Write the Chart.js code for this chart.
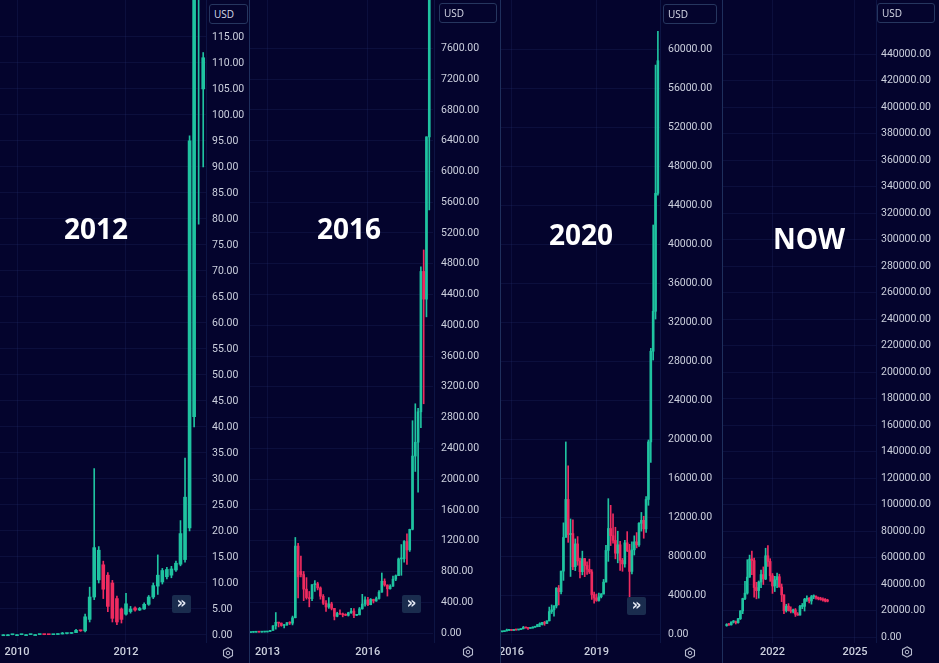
<!DOCTYPE html>
<html>
<head>
<meta charset="utf-8">
<script src="https://cdn.jsdelivr.net/npm/chart.js@4.4.1/dist/chart.umd.min.js"></script>
<style>
  html, body { margin: 0; padding: 0; background: #04042d; }
  #wrap { position: relative; width: 939px; height: 663px; overflow: hidden; background: #04042d; }
  canvas { position: absolute; top: 0; }
  .sep { position: absolute; top: 0; width: 1px; height: 663px; background: #1e2f5c; }
  .axisline { position: absolute; top: 0; width: 1px; height: 643px; background: #0d1544; }
  .era { position: absolute; color: #fff; font: bold 28px "Open Sans", sans-serif; transform: translate(-50%, -50%); white-space: nowrap; }
  .usd { position: absolute; height: 20px; box-sizing: border-box; border: 1px solid #26365f; border-radius: 3px;
         background: #04042d; color: #d8dbe8; font: 10px "Open Sans", sans-serif; line-height: 18px; padding-left: 4px; }
  .ff { position: absolute; width: 19px; height: 18px; background: #1a2c4e; border-radius: 2px; color: #e6ebf5;
        font: bold 15px "DejaVu Sans", sans-serif; text-align: center; line-height: 16px; }
  .gear { position: absolute; width: 12px; height: 12px; }
</style>
</head>
<body>
<div id="wrap">
  <canvas id="c1" width="249" height="663" style="left:0px"></canvas>
  <canvas id="c2" width="251" height="663" style="left:249px"></canvas>
  <canvas id="c3" width="222" height="663" style="left:500px"></canvas>
  <canvas id="c4" width="217" height="663" style="left:722px"></canvas>

  <div class="axisline" style="left:206px"></div>
  <div class="axisline" style="left:434px"></div>
  <div class="axisline" style="left:660px"></div>
  <div class="axisline" style="left:876px"></div>
  <div class="sep" style="left:249px"></div>
  <div class="sep" style="left:500px"></div>
  <div class="sep" style="left:722px"></div>

  <div class="era" style="left:96px; top:228px">2012</div>
  <div class="era" style="left:349px; top:228px">2016</div>
  <div class="era" style="left:581px; top:234px">2020</div>
  <div class="era" style="left:809px; top:238px">NOW</div>

  <div class="usd" style="left:209px; top:4px; width:39px">USD</div>
  <div class="usd" style="left:439px; top:3px; width:58px">USD</div>
  <div class="usd" style="left:663px; top:4px; width:54px">USD</div>
  <div class="usd" style="left:877px; top:3px; width:58px">USD</div>

  <div class="ff" style="left:172px; top:595px">»</div>
  <div class="ff" style="left:402px; top:595px">»</div>
  <div class="ff" style="left:627px; top:597px">»</div>

  <svg class="gear" style="left:222px; top:647px" viewBox="0 0 12 12"><polygon points="6,0.8 10.5,3.4 10.5,8.6 6,11.2 1.5,8.6 1.5,3.4" fill="none" stroke="#b9bdd0" stroke-width="1.1"/><circle cx="6" cy="6" r="1.8" fill="none" stroke="#b9bdd0" stroke-width="1"/></svg>
  <svg class="gear" style="left:462px; top:646px" viewBox="0 0 12 12"><polygon points="6,0.8 10.5,3.4 10.5,8.6 6,11.2 1.5,8.6 1.5,3.4" fill="none" stroke="#b9bdd0" stroke-width="1.1"/><circle cx="6" cy="6" r="1.8" fill="none" stroke="#b9bdd0" stroke-width="1"/></svg>
  <svg class="gear" style="left:684px; top:647px" viewBox="0 0 12 12"><polygon points="6,0.8 10.5,3.4 10.5,8.6 6,11.2 1.5,8.6 1.5,3.4" fill="none" stroke="#b9bdd0" stroke-width="1.1"/><circle cx="6" cy="6" r="1.8" fill="none" stroke="#b9bdd0" stroke-width="1"/></svg>
  <svg class="gear" style="left:901px; top:646px" viewBox="0 0 12 12"><polygon points="6,0.8 10.5,3.4 10.5,8.6 6,11.2 1.5,8.6 1.5,3.4" fill="none" stroke="#b9bdd0" stroke-width="1.1"/><circle cx="6" cy="6" r="1.8" fill="none" stroke="#b9bdd0" stroke-width="1"/></svg>
</div>

<script>
// monthly candles: [open, high, low, close]
// panel 1 starts Oct 2009
const ohlc2012 = [
  [0.05, 0.06, 0.04, 0.05], [0.05, 0.06, 0.04, 0.05], [0.05, 0.07, 0.04, 0.06], [0.06, 0.07, 0.05, 0.06],
  [0.06, 0.08, 0.05, 0.07], [0.07, 0.08, 0.06, 0.07], [0.07, 0.09, 0.06, 0.08], [0.08, 0.1, 0.06, 0.08],
  [0.08, 0.1, 0.06, 0.09], [0.09, 0.12, 0.05, 0.07], [0.07, 0.09, 0.06, 0.06], [0.06, 0.1, 0.06, 0.09],
  [0.09, 0.2, 0.09, 0.19], [0.19, 0.5, 0.19, 0.28], [0.28, 0.3, 0.2, 0.3], [0.3, 0.45, 0.28, 0.45],
  [0.45, 1.1, 0.45, 0.9], [0.9, 0.95, 0.7, 0.8], [0.8, 4, 0.6, 3.5], [3, 9.2, 2.5, 7.3],
  [7.3, 32, 6.8, 16.8], [10.6, 17, 10, 16.3], [13.5, 14.2, 7, 8.8], [11.5, 12, 4.5, 5.5],
  [10, 10.5, 2.5, 3.2], [7, 7.5, 2, 2.5], [5, 5.2, 2.3, 3], [4, 8, 3.8, 6],
  [4.5, 5.5, 4.2, 5], [5.2, 5.4, 4.6, 4.8], [4.8, 5.3, 4.7, 5.1], [5, 6.2, 4.9, 5.9],
  [5.9, 7.6, 5.7, 7.3], [7.3, 10, 7, 9.5], [9.4, 15.4, 7.8, 11.5], [10.2, 12.8, 9.8, 12.4],
  [11.2, 13, 10.8, 12.6], [11.5, 13.2, 11, 12.7], [12.5, 14.2, 12.2, 13.8], [13.6, 22, 13.3, 19.5],
  [14.5, 34, 14, 26.5], [20.6, 96, 20, 95], [42, 266, 40, 139], [125, 140, 79, 135],
  [105, 112, 90, 111]
];

// panel 2 starts Jul 2012
const ohlc2016 = [
  [6.6, 9.7, 6.5, 9.4], [9.4, 15.4, 7.1, 10.2], [10.2, 12.9, 9.9, 12.4], [12.4, 12.9, 9.6, 11.2],
  [11.2, 12.7, 10, 12.6], [12.6, 13.9, 12.5, 13.5], [13.5, 20.4, 13.2, 20.4], [20.4, 33.4, 19.1, 33.4],
  [33.4, 95, 33, 93], [93, 266, 50, 139], [139, 140, 79, 129], [129, 130, 88, 97],
  [97, 111, 65, 106], [106, 136, 98, 135], [135, 146, 110, 128], [128, 220, 105, 198],
  [198, 1242, 197, 1130], [1130, 1165, 455, 730], [800, 1000, 730, 760], [760, 800, 420, 570],
  [570, 720, 440, 460], [460, 540, 340, 447], [447, 630, 420, 628], [628, 680, 540, 640],
  [640, 660, 560, 586], [586, 600, 440, 478], [478, 500, 370, 387], [387, 420, 280, 338],
  [338, 460, 320, 378], [378, 400, 300, 320], [320, 320, 170, 217], [217, 270, 210, 254],
  [254, 300, 240, 244], [244, 260, 210, 236], [236, 250, 225, 230], [230, 270, 220, 263],
  [263, 320, 255, 284], [284, 318, 198, 230], [230, 243, 225, 236], [236, 332, 236, 314],
  [314, 503, 310, 377], [377, 469, 350, 430], [430, 464, 354, 368], [368, 448, 366, 437],
  [437, 440, 390, 416], [416, 468, 412, 448], [448, 550, 440, 531], [531, 780, 530, 673],
  [673, 704, 608, 624], [624, 626, 480, 575], [575, 628, 570, 609], [609, 740, 606, 700],
  [700, 755, 680, 745], [745, 975, 745, 963], [963, 1150, 750, 965], [965, 1200, 920, 1190],
  [1190, 1290, 890, 1080], [1080, 1350, 1060, 1348], [1348, 2760, 1340, 2300], [2300, 2980, 2100, 2480],
  [2480, 2920, 1830, 2875], [2875, 4760, 2670, 4700], [4700, 4980, 2980, 4340], [4340, 6450, 4110, 6450],
  [6450, 11400, 5500, 9900], [9900, 19700, 10700, 13800]
];

// panel 3 starts Sep 2015
const ohlc2020 = [
  [230, 243, 225, 236], [236, 332, 236, 314], [314, 503, 310, 377], [377, 469, 350, 430],
  [430, 464, 354, 368], [368, 448, 366, 437], [437, 440, 390, 416], [416, 468, 412, 448],
  [448, 550, 440, 531], [531, 780, 530, 673], [673, 704, 608, 624], [624, 626, 480, 575],
  [575, 628, 570, 609], [609, 740, 606, 700], [700, 755, 680, 745], [745, 975, 745, 963],
  [963, 1150, 750, 965], [965, 1200, 920, 1190], [1190, 1290, 890, 1080], [1080, 1350, 1060, 1348],
  [1348, 2760, 1340, 2300], [2300, 2980, 2100, 2480], [2480, 2920, 1830, 2875], [2875, 4760, 2670, 4700],
  [4700, 4980, 2980, 4340], [4340, 6450, 4110, 6450], [6450, 11400, 5500, 9900], [9900, 19700, 10700, 13800],
  [13800, 17250, 9400, 10200], [10200, 11800, 5900, 10300], [10300, 11700, 6600, 6900], [6900, 9750, 6500, 9240],
  [9240, 9990, 7050, 7490], [7490, 7780, 5750, 6390], [6390, 8500, 6070, 7730], [7730, 7760, 5880, 7030],
  [7030, 7410, 6100, 6630], [6630, 7680, 6200, 6370], [6370, 6600, 3550, 4040], [4040, 4300, 3150, 3690],
  [3690, 4100, 3350, 3440], [3440, 4200, 3380, 3820], [3820, 4150, 3700, 4100], [4100, 5600, 4100, 5320],
  [5320, 9100, 5350, 8570], [8570, 13880, 7450, 10820], [10820, 13200, 9070, 10080], [10080, 12330, 9320, 9600],
  [9600, 10950, 7710, 8290], [8290, 10540, 7300, 9150], [9150, 9500, 6520, 7550], [7550, 7750, 6430, 7190],
  [7190, 9600, 6850, 9350], [9350, 10500, 8450, 8540], [8540, 9200, 3800, 6420], [6420, 9460, 6150, 8630],
  [8630, 10070, 8100, 9450], [9450, 10400, 8830, 9140], [9140, 11440, 8990, 11350], [11350, 12470, 10550, 11660],
  [11660, 12080, 9820, 10780], [10780, 14100, 10420, 13800], [13800, 19900, 13200, 19700], [19700, 29300, 17600, 29000],
  [29000, 41950, 28100, 33100], [33100, 58350, 32300, 45200], [45200, 61800, 45000, 58800]
];

// panel 4 starts May 2020
const ohlcNow = [
  [8630, 10070, 8100, 9450], [9450, 10400, 8830, 9140], [9140, 11440, 8990, 11350], [11350, 12470, 10550, 11660],
  [11660, 12080, 9820, 10780], [10780, 14100, 10420, 13800], [13800, 19900, 13200, 19700], [19700, 29300, 17600, 29000],
  [29000, 41950, 28100, 33100], [33100, 58350, 32300, 45200], [45200, 61800, 45000, 58800], [58800, 64850, 47000, 57700],
  [57700, 59500, 30000, 37300], [37300, 41300, 28800, 35000], [35000, 42300, 29300, 41500], [41500, 50500, 37300, 47100],
  [47100, 52900, 39600, 43800], [43800, 67000, 43300, 61300], [61300, 69000, 53300, 57000], [57000, 59100, 42000, 46200],
  [46200, 47900, 32900, 38500], [38500, 45800, 34300, 43200], [43200, 48200, 37200, 45500], [45500, 47400, 37700, 37700],
  [37700, 40000, 26700, 31800], [31800, 31900, 17600, 19900], [19900, 24700, 18800, 23300], [23300, 25200, 19600, 20000],
  [20000, 22800, 18200, 19400], [19400, 21000, 18200, 20500], [20500, 21500, 15500, 17200], [17200, 18400, 16300, 16550],
  [16550, 23900, 16500, 23100], [23100, 25300, 21400, 23150], [23150, 29200, 19600, 28500], [28500, 31000, 26900, 29250],
  [29250, 29800, 25800, 27200], [27200, 31400, 24800, 30450], [30450, 31800, 28900, 30800], [30800, 31000, 28500, 29800],
  [29800, 30200, 28000, 28900], [28900, 30000, 27800, 28300], [28300, 29500, 27000, 27800], [28500, 29000, 26500, 27200],
  [27900, 28500, 26500, 27000]
];

// first candle of each panel, as a year fraction
const start2012 = 2009 + 9 / 12;
const start2016 = 2012 + 6 / 12;
const start2020 = 2015 + 8 / 12;
const startNow = 2020 + 4 / 12;

const xTicks2012 = [2010, 2012];
const xTicks2016 = [2013, 2016];
const xTicks2020 = [2016, 2019];
const xTicksNow = [2022, 2025];

// price axis: step between labels and highest label
const yTicks2012 = { step: 5, top: 115 };
const yTicks2016 = { step: 400, top: 7600 };
const yTicks2020 = { step: 4000, top: 60000 };
const yTicksNow = { step: 20000, top: 440000 };

const UP = '#1fc3a0';
const DOWN = '#ee2b5f';
const GRID = 'rgba(45, 58, 125, 0.2)';
const TICK_FONT = { family: 'Roboto, sans-serif', size: 10.5 };

Chart.defaults.animation = false;
Chart.defaults.devicePixelRatio = 1;

function noPad(s) {
  s.paddingTop = 0;
  s.paddingBottom = 0;
  s.paddingLeft = 0;
  s.paddingRight = 0;
}

function makePanel(id, rows, t0, xTicks, xRange, yRange, yTicks, axisW, yPad, bodyW) {
  const colors = rows.map(r => (r[3] >= r[0] ? UP : DOWN));
  const xOf = i => t0 + i / 12;
  const yVals = [];
  for (let v = 0; v <= yTicks.top; v += yTicks.step) yVals.push(v);
  new Chart(document.getElementById(id), {
    type: 'bar',
    data: {
      datasets: [
        {
          data: rows.map((r, i) => ({ x: xOf(i), y: [r[0], r[3]] })),
          backgroundColor: colors,
          barThickness: bodyW,
          minBarLength: 1,
          grouped: false,
          order: 0
        },
        {
          data: rows.map((r, i) => ({ x: xOf(i), y: [r[2], r[1]] })),
          backgroundColor: colors,
          barThickness: 1,
          grouped: false,
          order: 1
        }
      ]
    },
    options: {
      responsive: false,
      layout: { padding: 0 },
      plugins: { legend: { display: false }, tooltip: { enabled: false } },
      scales: {
        x: {
          type: 'linear',
          min: xRange[0],
          max: xRange[1],
          offset: false,
          grid: { color: GRID, drawTicks: false, offset: false },
          border: { display: false },
          afterBuildTicks: s => { s.ticks = xTicks.map(v => ({ value: v })); },
          afterFit: s => { s.height = 20; noPad(s); },
          ticks: {
            autoSkip: false,
            maxRotation: 0,
            padding: 3,
            color: '#ccd0de',
            font: { family: 'Roboto, sans-serif', size: 11, weight: '500' },
            callback: v => String(v)
          }
        },
        y: {
          position: 'right',
          min: yRange[0],
          max: yRange[1],
          grid: { color: GRID, drawTicks: false },
          border: { display: false },
          afterBuildTicks: s => { s.ticks = yVals.map(v => ({ value: v })); },
          afterFit: s => { s.width = axisW; noPad(s); },
          ticks: {
            autoSkip: false,
            padding: yPad,
            color: '#ccd0de',
            font: TICK_FONT,
            callback: v => v.toFixed(2)
          }
        }
      }
    }
  });
}

makePanel('c1', ohlc2012, start2012, xTicks2012, [2009.688, 2013.468], [-1.54, 122.1], yTicks2012, 43, 6, 3);
makePanel('c2', ohlc2016, start2016, xTicks2016, [2012.45, 2017.945], [-130, 8229], yTicks2016, 67, 8, 2);
makePanel('c3', ohlc2020, start2020, xTicks2020, [2015.594, 2021.241], [-923, 65026], yTicks2020, 62, 8, 2);
makePanel('c4', ohlcNow, startNow, xTicksNow, [2020.164, 2025.764], [-4528, 480755], yTicksNow, 63, 5, 2);
</script>
</body>
</html>
